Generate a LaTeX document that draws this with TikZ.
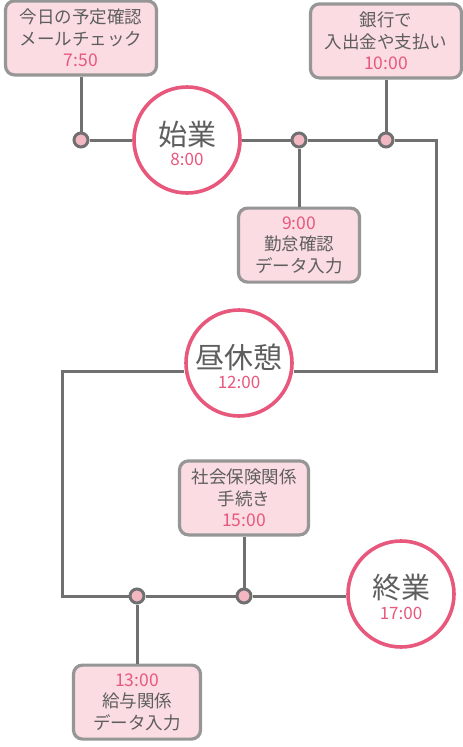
\documentclass[tikz,border=0pt]{standalone}
\usepackage{fontspec}
\setmainfont{Noto Sans CJK JP}
\usetikzlibrary{positioning}
\definecolor{boxfill}{HTML}{FADCE2}
\definecolor{boxgray}{HTML}{969696}
\definecolor{linegray}{HTML}{707070}
\definecolor{dotfill}{HTML}{F3B7C1}
\definecolor{eventpink}{HTML}{E8587C}
\definecolor{textgray}{HTML}{5E5E5E}

\begin{document}
\begin{tikzpicture}[x=1pt, y=-1pt,
  box/.style={draw=boxgray, line width=3.2pt, rounded corners=9pt, fill=boxfill, align=center, minimum height=74pt, inner sep=2pt, text=textgray, font=\fontsize{17.5}{21.5}\selectfont},
  event/.style={circle, draw=eventpink, line width=3.6pt, fill=white, minimum size=106pt, inner sep=0pt, align=center, text=textgray},
  dot/.style={circle, draw=linegray, line width=3pt, fill=dotfill, minimum size=14pt, inner sep=0pt},
  link/.style={draw=linegray, line width=3pt}]
  \useasboundingbox (0,0) rectangle (463,747);
  % timeline points
  \node[dot] (d1) at (81,140) {};
  \node[dot] (d2) at (299,140) {};
  \node[dot] (d3) at (386,140) {};
  \node[dot] (d4) at (137,596) {};
  \node[dot] (d5) at (244,596) {};
  \coordinate (c1) at (436,140);
  \coordinate (c2) at (436,371);
  \coordinate (c3) at (62,371);
  \coordinate (c4) at (62,596);
  % milestones
  \node[event] (start) at (187,140) {\rule{0pt}{31pt}{\fontsize{29}{30}\selectfont 始業}\\[5pt]{\fontsize{17}{18}\selectfont\color{eventpink}8:00}};
  \node[event] (lunch) at (239,363) {\rule{0pt}{31pt}{\fontsize{29}{30}\selectfont 昼休憩}\\[5pt]{\fontsize{17}{18}\selectfont\color{eventpink}12:00}};
  \node[event] (finish) at (401,594) {\rule{0pt}{31pt}{\fontsize{29}{30}\selectfont 終業}\\[5pt]{\fontsize{17}{18}\selectfont\color{eventpink}17:00}};
  % tasks
  \node[box, minimum width=151pt, above=55pt of d1] (mail) {今日の予定確認\\メールチェック\\\textcolor{eventpink}{7:50}};
  \node[box, minimum width=151pt, above=52pt of d3] (bank) {銀行で\\入出金や支払い\\\textcolor{eventpink}{10:00}};
  \node[box, minimum width=121pt, below=58pt of d2] (attend) {\textcolor{eventpink}{9:00}\\勤怠確認\\データ入力};
  \node[box, minimum width=129pt, above=51pt of d5] (insure) {社会保険関係\\手続き\\\textcolor{eventpink}{15:00}};
  \node[box, minimum width=127pt, below=59pt of d4] (payroll) {\textcolor{eventpink}{13:00}\\給与関係\\データ入力};
  % connectors
  \draw[link] (mail) -- (d1);
  \draw[link] (d1) -- (start);
  \draw[link] (start) -- (d2);
  \draw[link] (d2) -- (d3);
  \draw[link] (d2) -- (attend);
  \draw[link] (bank) -- (d3);
  \draw[link] (d3) -- (c1) -- (c2) -- (c2 -| lunch.east);
  \draw[link] (c2 -| lunch.west) -- (c3) -- (c4) -- (d4);
  \draw[link] (d4) -- (payroll);
  \draw[link] (d4) -- (d5);
  \draw[link] (d5) -- (insure);
  \draw[link] (d5) -- (d5 -| finish.west);
\end{tikzpicture}
\end{document}
